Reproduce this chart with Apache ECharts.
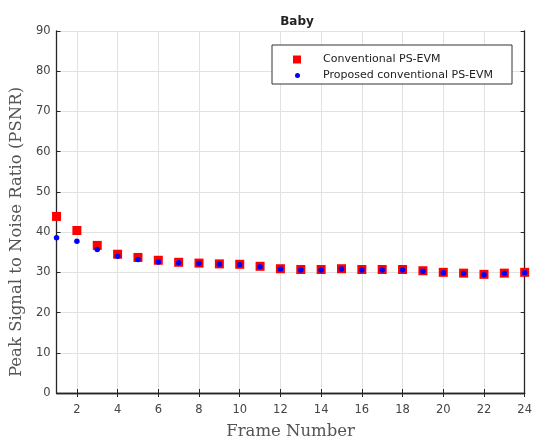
<!DOCTYPE html>
<html>
<head>
<meta charset="utf-8">
<script src="https://cdn.jsdelivr.net/npm/echarts@6/dist/echarts.min.js"></script>
<style>
  html, body { margin: 0; padding: 0; background: #fff; }
  #chart { width: 535px; height: 445px; }
</style>
</head>
<body>
<div id="chart"></div>
<script>
// frame numbers and PSNR values
const frames = [1, 2, 3, 4, 5, 6, 7, 8, 9, 10, 11, 12, 13, 14, 15, 16, 17, 18, 19, 20, 21, 22, 23, 24]
const conventional = [43.9, 40.4, 36.7, 34.5, 33.7, 33.0, 32.5, 32.3, 32.1, 32.0, 31.5, 30.9, 30.7, 30.7, 30.9, 30.7, 30.7, 30.7, 30.4, 30.0, 29.8, 29.5, 29.8, 30.0]
const proposed = [38.6, 37.7, 35.7, 34.0, 33.2, 32.6, 32.4, 32.2, 32.0, 31.9, 31.4, 30.8, 30.6, 30.6, 30.8, 30.6, 30.6, 30.6, 30.3, 29.9, 29.7, 29.4, 29.7, 29.9]
const xTicks = [2, 4, 6, 8, 10, 12, 14, 16, 18, 20, 22, 24]

const chart = echarts.init(document.getElementById('chart'))

const axisColor = '#262626'
const labelStyle = { color: '#444', fontFamily: 'DejaVu Sans', fontSize: 11.5 }
const nameStyle = { color: '#555', fontFamily: 'DejaVu Serif', fontSize: 16.5 }

const option = {
  animation: false,
  title: {
    text: 'Baby',
    left: 292,
    textAlign: 'center',
    top: 11,
    textStyle: { fontFamily: 'DejaVu Sans', fontSize: 12, fontWeight: 'bold', color: '#222' }
  },
  grid: { left: 54, right: 7, top: 31, bottom: 48 },
  graphic: [
    {
      type: 'rect',
      shape: { x: 272, y: 45, width: 240, height: 39 },
      style: { fill: '#fff', stroke: '#333', lineWidth: 1 },
      z: 90
    }
  ],
  legend: [
    {
      data: ['Conventional PS-EVM'],
      left: 293, top: 54,
      padding: 0,
      itemWidth: 8, itemHeight: 8,
      textStyle: { fontFamily: 'DejaVu Sans', fontSize: 11, color: '#222', padding: [0, 0, 0, 17] },
      z: 100
    },
    {
      data: ['Proposed conventional PS-EVM'],
      left: 295, top: 70,
      padding: 0,
      itemWidth: 5, itemHeight: 5,
      textStyle: { fontFamily: 'DejaVu Sans', fontSize: 11, color: '#222', padding: [0, 0, 0, 18] },
      z: 100
    }
  ],
  xAxis: [
    {
      type: 'value',
      min: 1, max: 24,
      name: 'Frame Number',
      nameLocation: 'middle',
      nameGap: 30,
      nameTextStyle: nameStyle,
      axisLine: { onZero: false, lineStyle: { color: axisColor, width: 1.3 } },
      axisTick: { inside: true, length: 4, customValues: xTicks, lineStyle: { color: axisColor } },
      axisLabel: { customValues: xTicks, margin: 11, ...labelStyle },
      splitLine: { show: true, lineStyle: { color: '#e2e2e2' } }
    },
    {
      type: 'value',
      position: 'top',
      min: 1, max: 24,
      axisLine: { lineStyle: { color: axisColor, width: 1.3 } },
      axisTick: { inside: true, length: 4, customValues: xTicks, lineStyle: { color: axisColor } },
      axisLabel: { show: false },
      splitLine: { show: false }
    }
  ],
  yAxis: [
    {
      type: 'value',
      min: 0, max: 90, interval: 10,
      name: 'Peak Signal to Noise Ratio (PSNR)',
      nameLocation: 'middle',
      nameGap: 29,
      nameTextStyle: { ...nameStyle, padding: [0, 40, 0, 0] },
      axisLine: { show: true, lineStyle: { color: axisColor, width: 1.3 } },
      axisTick: { show: true, inside: true, length: 4, lineStyle: { color: axisColor } },
      axisLabel: { margin: 6, ...labelStyle },
      splitLine: { show: true, lineStyle: { color: '#e2e2e2' } }
    },
    {
      type: 'value',
      position: 'right',
      min: 0, max: 90, interval: 10,
      axisLine: { show: true, lineStyle: { color: axisColor, width: 1.3 } },
      axisTick: { show: true, inside: true, length: 4, lineStyle: { color: axisColor } },
      axisLabel: { show: false },
      splitLine: { show: false }
    }
  ],
  series: [
    {
      name: 'Conventional PS-EVM',
      type: 'scatter',
      symbol: 'rect',
      symbolSize: 9,
      itemStyle: { color: '#ff0000', opacity: 1 },
      data: frames.map((f, i) => [f, conventional[i]]),
      z: 2
    },
    {
      name: 'Proposed conventional PS-EVM',
      type: 'scatter',
      symbol: 'circle',
      symbolSize: 5.5,
      itemStyle: { color: '#0000ff', opacity: 1 },
      data: frames.map((f, i) => [f, proposed[i]]),
      z: 3
    }
  ]
}

chart.setOption(option)
</script>
</body>
</html>
